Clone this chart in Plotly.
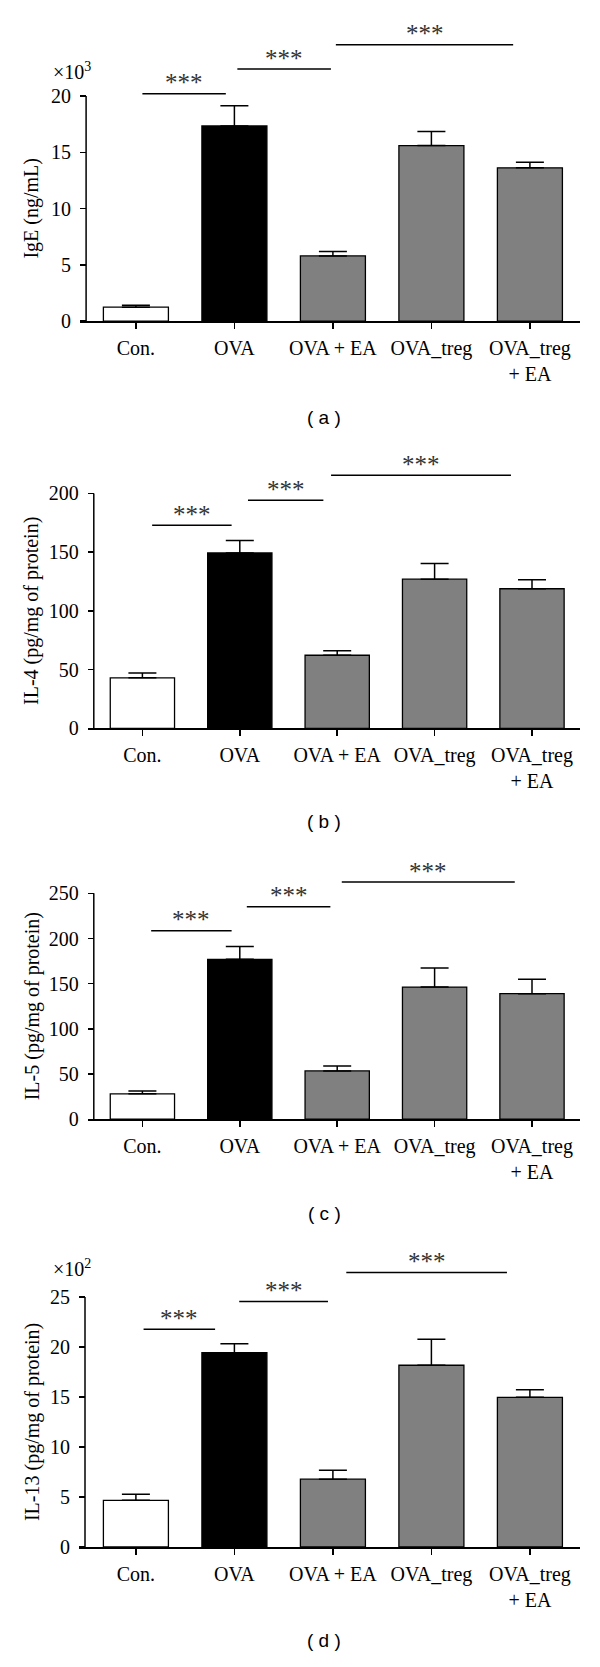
import plotly.graph_objects as go

# ---------------- data ----------------
categories = ["Con.", "OVA", "OVA + EA", "OVA_treg", "OVA_treg<br>+ EA"]
bar_colors = ["white", "black", "#808080", "#808080", "#808080"]

ige_mean = [1.24, 17.35, 5.8, 15.6, 13.62]
ige_err = [0.17, 1.8, 0.4, 1.25, 0.5]
il4_mean = [43.1, 149.3, 62.3, 127.0, 118.9]
il4_err = [4.2, 10.7, 3.9, 13.3, 7.6]
il5_mean = [28.2, 177.0, 53.5, 146.3, 139.0]
il5_err = [3.0, 14.3, 5.5, 21.2, 16.0]
il13_mean = [4.67, 19.44, 6.79, 18.18, 14.97]
il13_err = [0.6, 0.9, 0.9, 2.6, 0.76]

ige_ticks = [0, 5, 10, 15, 20]
il4_ticks = [0, 50, 100, 150, 200]
il5_ticks = [0, 50, 100, 150, 200, 250]
il13_ticks = [0, 5, 10, 15, 20, 25]

# significance brackets: (from category, to category, level)
ige_sig = [(0.066, 0.913, 20.2), (1.03, 1.98, 22.4), (2.03, 3.83, 24.56)]
il4_sig = [(0.10, 0.916, 173.0), (1.084, 1.858, 194.1), (1.937, 3.784, 215.5)]
il5_sig = [(0.09, 0.916, 208.6), (1.072, 1.93, 235.3), (2.047, 3.823, 262.5)]
il13_sig = [(0.078, 0.804, 21.79), (1.049, 1.95, 24.57), (2.136, 3.767, 27.45)]
sig_text = "***"

y_titles = ["IgE (ng/mL)", "IL-4 (pg/mg of protein)",
            "IL-5 (pg/mg of protein)", "IL-13 (pg/mg of protein)"]
multipliers = ["×10<sup>3</sup>", None, None, "×10<sup>2</sup>"]
panel_labels = ["( a )", "( b )", "( c )", "( d )"]

# ---------------- layout geometry (pixels) ----------------
W, H = 600, 1667
SERIF = "Liberation Serif"
SANS = "Liberation Sans"

panels = [
    dict(mean=ige_mean, err=ige_err, ticks=ige_ticks, sig=ige_sig, range_top=25.0,
         y0=323.3, ytop=96.7, xl=80.4, xr=579.8, yax=86.1, cat0=135.9, sp=98.5,
         mult_xy=(72, 71.7), lab_y=420),
    dict(mean=il4_mean, err=il4_err, ticks=il4_ticks, sig=il4_sig, range_top=220.0,
         y0=733.3, ytop=496.7, xl=88.0, xr=579.8, yax=93.8, cat0=142.4, sp=97.4,
         mult_xy=None, lab_y=826.7),
    dict(mean=il5_mean, err=il5_err, ticks=il5_ticks, sig=il5_sig, range_top=270.0,
         y0=1126.7, ytop=899.3, xl=88.0, xr=579.8, yax=93.8, cat0=142.4, sp=97.4,
         mult_xy=None, lab_y=1221.7),
    dict(mean=il13_mean, err=il13_err, ticks=il13_ticks, sig=il13_sig, range_top=28.0,
         y0=1557.3, ytop=1305.7, xl=79.2, xr=579.8, yax=85.0, cat0=135.9, sp=98.5,
         mult_xy=(72, 1276.7), lab_y=1651.7),
]

fig = go.Figure()
shapes = []
annotations = []
layout = dict(
    width=W, height=H, margin=dict(l=0, r=0, t=0, b=0),
    paper_bgcolor="white", plot_bgcolor="white", showlegend=False,
    font=dict(family=SERIF, size=20, color="black"),
)

for i, p in enumerate(panels):
    n = i + 1
    xa = "x" if n == 1 else f"x{n}"
    ya = "y" if n == 1 else f"y{n}"
    xkey = "xaxis" if n == 1 else f"xaxis{n}"
    ykey = "yaxis" if n == 1 else f"yaxis{n}"
    top_tick = p["ticks"][-1]
    ppu = (p["y0"] - p["ytop"]) / top_tick
    top_px = p["y0"] - p["range_top"] * ppu
    ydom = [1 - p["y0"] / H, 1 - top_px / H]
    xdom = [p["xl"] / W, p["xr"] / W]
    xr = [(p["xl"] - p["cat0"]) / p["sp"], (p["xr"] - p["cat0"]) / p["sp"]]
    yax_cat = (p["yax"] - p["cat0"]) / p["sp"]

    fig.add_trace(go.Bar(
        x=list(range(len(categories))), y=p["mean"], width=0.66,
        marker=dict(color=bar_colors, line=dict(color="black", width=1.3)),
        error_y=dict(type="data", symmetric=False, array=p["err"],
                     arrayminus=[0] * len(p["err"]), color="black",
                     thickness=1.5, width=14),
        xaxis=xa, yaxis=ya, hoverinfo="skip",
    ))

    layout[xkey] = dict(
        domain=xdom, range=xr, anchor=ya, showgrid=False, zeroline=False,
        showline=True, linecolor="black", linewidth=1.5,
        ticks="outside", ticklen=6, tickwidth=1.5, tickcolor="black",
        tickvals=list(range(len(categories))), ticktext=categories,
        tickfont=dict(family=SERIF, size=20), ticklabelstandoff=2,
    )
    layout[ykey] = dict(
        domain=ydom, range=[0, p["range_top"]], anchor="free",
        position=p["yax"] / W, showgrid=False, zeroline=False, showline=False,
        ticks="outside", ticklen=6, tickwidth=1.5, tickcolor="black",
        tickvals=p["ticks"], ticktext=[str(t) for t in p["ticks"]],
        tickfont=dict(family=SERIF, size=20), ticklabelstandoff=5,
    )

    # y axis line (only up to the top tick)
    shapes.append(dict(type="line", xref=xa, yref=ya, x0=yax_cat, x1=yax_cat,
                       y0=0, y1=top_tick, line=dict(color="black", width=1.5)))

    # significance brackets
    for (s0, s1, lvl) in p["sig"]:
        shapes.append(dict(type="line", xref=xa, yref=ya, x0=s0, x1=s1,
                           y0=lvl, y1=lvl, line=dict(color="black", width=1.5)))
        annotations.append(dict(xref=xa, yref=ya, x=(s0 + s1) / 2, y=lvl,
                                text=sig_text, showarrow=False, yanchor="middle",
                                yshift=11, font=dict(family=SERIF, size=25, color="#333333")))

    # y title
    annotations.append(dict(xref="paper", yref="paper", x=32 / W,
                            y=1 - (p["y0"] + p["ytop"]) / 2 / H, text=y_titles[i],
                            textangle=-90, showarrow=False, xanchor="center",
                            yanchor="middle", font=dict(family=SERIF, size=20)))
    # multiplier
    if multipliers[i] is not None:
        mx, my = p["mult_xy"]
        annotations.append(dict(xref="paper", yref="paper", x=mx / W, y=1 - my / H,
                                text=multipliers[i], showarrow=False,
                                xanchor="center", yanchor="middle",
                                font=dict(family=SERIF, size=20)))
    # panel label
    annotations.append(dict(xref="paper", yref="paper", x=324 / W,
                            y=1 - p["lab_y"] / H, text=panel_labels[i],
                            showarrow=False, xanchor="center", yanchor="middle",
                            font=dict(family=SANS, size=19)))

layout["shapes"] = shapes
layout["annotations"] = annotations
fig.update_layout(**layout)
fig.write_html(
    "out.html",
    config={"displayModeBar": False, "staticPlot": True},
    post_script="document.body.style.margin='0';document.body.style.padding='0';",
)
